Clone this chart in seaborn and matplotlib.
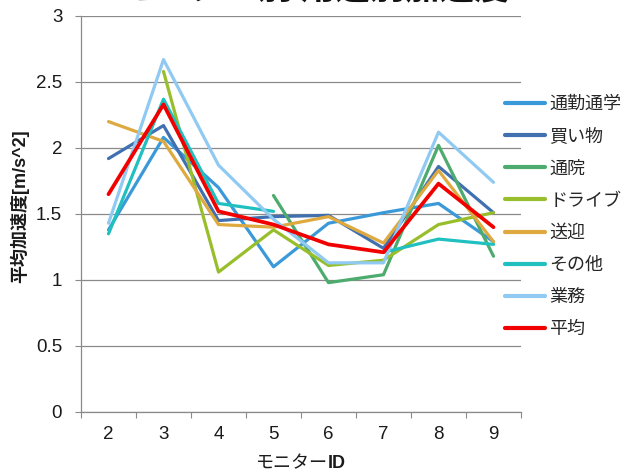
import numpy as np
import pandas as pd
import matplotlib
matplotlib.use("Agg")
import matplotlib.pyplot as plt
import seaborn as sns

# モニターID
monitor_ids = [2, 3, 4, 5, 6, 7, 8, 9]

# 用途別の平均加速度 [m/s^2]
commute = [1.38, 2.08, 1.70, 1.10, 1.43, 1.51, 1.58, 1.29]
shopping = [1.92, 2.17, 1.45, 1.48, 1.49, 1.24, 1.86, 1.51]
hospital = [np.nan, np.nan, np.nan, 1.64, 0.98, 1.04, 2.02, 1.18]
drive = [np.nan, 2.58, 1.06, 1.38, 1.11, 1.15, 1.42, 1.51]
pickup = [2.20, 2.05, 1.42, 1.40, 1.48, 1.28, 1.83, 1.29]
other = [1.35, 2.37, 1.58, 1.52, np.nan, 1.21, 1.31, 1.27]
business = [1.43, 2.67, 1.87, 1.46, 1.13, 1.13, 2.12, 1.74]
average = [1.65, 2.33, 1.52, 1.42, 1.27, 1.21, 1.73, 1.40]

series_names = ["通勤通学", "買い物", "通院", "ドライブ", "送迎", "その他", "業務", "平均"]
series_values = [commute, shopping, hospital, drive, pickup, other, business, average]
colors = ["#3A9AD9", "#4070B0", "#4DAB6D", "#98BF2B", "#DEA93F",
          "#20C0C0", "#90CAF2", "#F20000"]
y_ticks = [0, 0.5, 1, 1.5, 2, 2.5, 3]

# long-form table; a new segment starts after each missing value
rows = []
for name, vals in zip(series_names, series_values):
    seg = 0
    for mid, v in zip(monitor_ids, vals):
        if np.isnan(v):
            seg += 1
            continue
        rows.append({"モニターID": mid, "加速度": v, "用途": name,
                     "seg": f"{name}-{seg}"})
df = pd.DataFrame(rows)

sns.set_theme(style="white")
plt.rcParams["font.family"] = ["Liberation Sans", "Noto Sans CJK JP"]

fig = plt.figure(figsize=(6.31, 4.71), dpi=100)
ax = fig.add_axes([81 / 631, 1 - 412 / 471, 440 / 631, 396 / 471])

sns.lineplot(data=df, x="モニターID", y="加速度", hue="用途",
             hue_order=series_names, palette=colors, units="seg",
             estimator=None, sort=True, linewidth=2.3, ax=ax, legend=True)
for line in ax.lines:
    if matplotlib.colors.to_hex(line.get_color()).upper() == "#F20000":
        line.set_linewidth(2.7)

ax.set_xlim(1.5, 9.5)
ax.set_ylim(0, 3)
ax.set_yticks(y_ticks)
ax.set_yticklabels([f"{t:g}" for t in y_ticks], fontsize=13.5, color="#1a1a1a")
ax.yaxis.grid(True, color="#8a8a8a", linewidth=0.9)
ax.xaxis.grid(False)

# category boundaries carry the tick marks, centres carry the labels
ax.set_xticks(np.arange(1.5, 10.0, 1.0))
ax.set_xticklabels([])
ax.set_xticks(monitor_ids, minor=True)
ax.set_xticklabels([str(m) for m in monitor_ids], minor=True, fontsize=13.5,
                   color="#1a1a1a")
ax.tick_params(axis="x", which="major", length=4, width=0.8, color="#8a8a8a",
               direction="out", bottom=True)
ax.tick_params(axis="x", which="minor", length=0, pad=10)
ax.tick_params(axis="y", length=4, width=0.8, color="#8a8a8a",
               direction="out", left=True, pad=9.5)

for side in ["top", "right"]:
    ax.spines[side].set_visible(False)
for side in ["left", "bottom"]:
    ax.spines[side].set_color("#8a8a8a")
    ax.spines[side].set_linewidth(0.9)

ax.set_xlabel("")
ax.set_ylabel("")

# axis titles
fig.text(328 / 631, 1 - 463 / 471, "モニター", ha="right", va="center",
         fontsize=13, color="#1a1a1a", family=["Noto Sans CJK JP"])
fig.text(328 / 631, 1 - 463 / 471, "ID", ha="left", va="center",
         fontsize=13, fontweight="bold", color="#1a1a1a")
fig.text(20 / 631, 1 - 206 / 471, "平均加速度[m/s^2]", ha="center",
         va="center", rotation=90, fontsize=13, fontweight="bold",
         color="#1a1a1a", family=["Liberation Sans", "Noto Sans CJK JP"])

# chart title (sits at the very top edge of the canvas)
fig.text(314 / 631, 1 - 6.5 / 471, "モニター別 用途別加速度", ha="center",
         va="bottom", fontsize=25, fontweight="bold", color="#111111",
         family=["Noto Sans CJK JP"])

handles, labels = ax.get_legend_handles_labels()
ax.get_legend().remove()
leg = fig.legend(handles, labels, loc="upper left",
                 bbox_to_anchor=(498 / 631, 1 - 89 / 471), frameon=False,
                 fontsize=13, handlelength=2.2, handletextpad=0.25,
                 labelspacing=0.84, borderaxespad=0)
for h in leg.legend_handles:
    h.set_linewidth(3.0)
for t in leg.get_texts():
    t.set_color("#262626")

fig.savefig("out.png", dpi=100)
